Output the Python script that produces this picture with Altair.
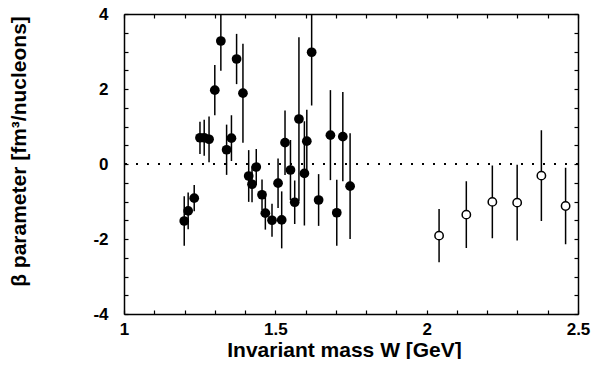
import altair as alt
import pandas as pd

# Filled circles (low W data)
w_filled = [1.199, 1.212, 1.232, 1.251, 1.265, 1.281, 1.300, 1.320, 1.339, 1.355,
            1.372, 1.393, 1.412, 1.423, 1.437, 1.456, 1.467, 1.489, 1.509, 1.521,
            1.532, 1.550, 1.564, 1.578, 1.596, 1.604, 1.620, 1.643, 1.682, 1.703,
            1.723, 1.747]
beta_filled = [-1.52, -1.25, -0.91, 0.70, 0.70, 0.66, 1.97, 3.28, 0.38, 0.69,
               2.80, 1.89, -0.32, -0.54, -0.08, -0.82, -1.31, -1.50, -0.51, -1.49,
               0.57, -0.16, -1.02, 1.20, -0.25, 0.61, 2.98, -0.96, 0.77, -1.30,
               0.73, -0.59]
err_filled = [0.66, 0.49, 0.35, 0.43, 0.48, 0.61, 0.67, 0.79, 0.67, 0.61,
              0.67, 1.32, 0.69, 0.48, 0.48, 0.41, 0.44, 0.44, 0.66, 0.76,
              0.86, 0.80, 0.58, 2.18, 1.39, 0.84, 1.42, 0.69, 1.20, 0.88,
              1.19, 1.41]

# Open circles (high W data)
w_open = [2.041, 2.131, 2.217, 2.299, 2.379, 2.459]
beta_open = [-1.91, -1.35, -1.01, -1.03, -0.31, -1.12]
err_open = [0.71, 0.89, 0.97, 1.01, 1.21, 1.02]

x_ticks = [round(1 + 0.1 * i, 1) for i in range(16)]
y_ticks = [-4 + 0.5 * i for i in range(17)]

df_f = pd.DataFrame({"W": w_filled, "beta": beta_filled,
                     "lo": [b - e for b, e in zip(beta_filled, err_filled)],
                     "hi": [b + e for b, e in zip(beta_filled, err_filled)]})
df_o = pd.DataFrame({"W": w_open, "beta": beta_open,
                     "lo": [b - e for b, e in zip(beta_open, err_open)],
                     "hi": [b + e for b, e in zip(beta_open, err_open)]})
df_all = pd.concat([df_f, df_o], ignore_index=True)

FONT = "Liberation Sans"
xscale = alt.Scale(domain=[1, 2.5], nice=False, zero=False)
yscale = alt.Scale(domain=[-4, 4], nice=False, zero=False)

tick_in = alt.ExprRef(expr="-4")

x_bottom = alt.Axis(values=x_ticks, orient="bottom", grid=False, tickSize=tick_in,
                    tickColor="black", tickWidth=1.2, domainColor="black", domainWidth=1.5,
                    labelExpr="(round(datum.value*10) % 5 === 0) ? '' + datum.value : ''",
                    labelPadding=11, labelFont=FONT, labelFontSize=17, labelFontWeight="bold",
                    labelColor="black", labelFlush=False,
                    title="Invariant mass W [GeV]", titleFont=FONT, titleFontSize=21,
                    titleFontWeight="bold", titleColor="black",
                    titleX=220, titleY=42, titleBaseline="alphabetic")
y_left = alt.Axis(values=y_ticks, orient="left", grid=False, tickSize=tick_in,
                  tickColor="black", tickWidth=1.2, domainColor="black", domainWidth=1.5,
                  labelExpr="(datum.value % 2 === 0) ? '' + datum.value : ''",
                  labelPadding=20, labelFont=FONT, labelFontSize=17, labelFontWeight="bold",
                  labelColor="black", labelFlush=False,
                  title="β parameter [fm³/nucleons]", titleFont=FONT, titleFontSize=21,
                  titleFontWeight="bold", titleColor="black", titleAngle=270,
                  titleX=-105, titleY=137, titleBaseline="middle", titleAlign="center")
x_top = alt.Axis(values=x_ticks, orient="top", grid=False, tickSize=tick_in,
                 tickColor="black", tickWidth=1.2, domainColor="black", domainWidth=1.5,
                 labels=False, title=None)
y_right = alt.Axis(values=y_ticks, orient="right", grid=False, tickSize=tick_in,
                   tickColor="black", tickWidth=1.2, domainColor="black", domainWidth=1.5,
                   labels=False, title=None)

bars = alt.Chart(df_all).mark_rule(color="black", strokeWidth=1.5, clip=True).encode(
    x=alt.X("W:Q", scale=xscale, axis=x_bottom),
    y=alt.Y("lo:Q", scale=yscale, axis=y_left),
    y2="hi:Q",
)

zero = alt.Chart(df_f).mark_rule(color="black", strokeWidth=1.6, strokeDash=[2, 9]).encode(
    y=alt.Y(datum=0, scale=yscale, axis=None),
)

filled = alt.Chart(df_f).mark_point(filled=True, color="black", size=95, opacity=1).encode(
    x=alt.X("W:Q", scale=xscale, axis=x_top),
    y=alt.Y("beta:Q", scale=yscale, axis=y_right),
)

opened = alt.Chart(df_o).mark_point(filled=True, fill="white", stroke="black",
                                    strokeWidth=1.5, size=70, opacity=1).encode(
    x=alt.X("W:Q", scale=xscale, axis=None),
    y=alt.Y("beta:Q", scale=yscale, axis=None),
)

chart = alt.layer(zero, bars, filled, opened).resolve_axis(
    x="independent", y="independent"
).properties(
    width=454, height=300,
    autosize=alt.AutoSizeParams(type="none"),
    padding={"left": 116, "top": 6, "right": 25, "bottom": 45},
).configure_view(stroke="black", strokeWidth=1.5).configure(background="white")

chart.save("out.html", embed_options={"renderer": "svg", "actions": False})
